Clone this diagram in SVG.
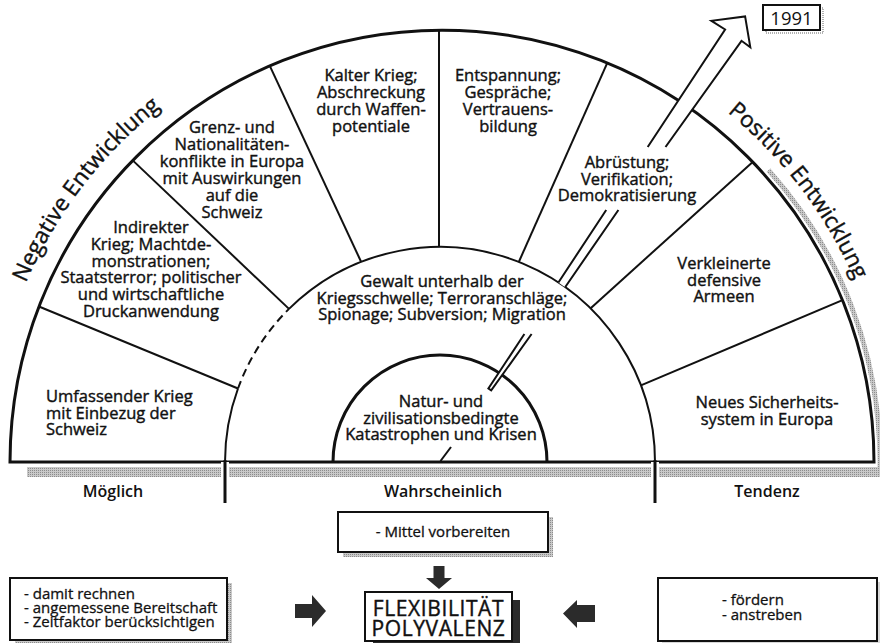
<svg xmlns="http://www.w3.org/2000/svg" width="880" height="643" viewBox="0 0 880 643">
<defs>
<pattern id="ht" width="2" height="2" patternUnits="userSpaceOnUse">
<rect width="2" height="2" fill="#c9c9c9"/>
<rect width="1" height="1" fill="#8c8c8c"/>
</pattern>
<path id="pathNeg" d="M -9.3 422.6 A 452 452 0 0 1 286.4 37.3"/>
<path id="pathPos" d="M 597.8 38.1 A 452 452 0 0 1 891.5 425.0"/>
</defs>
<style>
.thick{fill:none;stroke:#111;stroke-width:3}
.mid{fill:none;stroke:#111;stroke-width:2}
.rad{stroke:#111;stroke-width:2}
.seg{font-family:"Open Sans","Noto Sans",sans-serif;font-size:16.5px;font-weight:500;fill:#111;stroke:#111;stroke-width:0.4px;text-anchor:middle}
.lab{font-family:"Open Sans","Noto Sans",sans-serif;font-size:16px;font-weight:600;fill:#111;text-anchor:middle}
.box{fill:#fff;stroke:#111;stroke-width:2}
.btxt{font-family:"Open Sans","Noto Sans",sans-serif;font-size:15px;font-weight:500;fill:#111;stroke:#111;stroke-width:0.3px}
.curve{font-family:"Open Sans","Noto Sans",sans-serif;font-size:22.5px;font-weight:500;fill:#111;stroke:#111;stroke-width:0.4px}
.blk{fill:#2b2b2b}
.shaftfill{fill:#fff;stroke:none}
.shaft{fill:none;stroke:#111;stroke-width:2;stroke-linejoin:miter}
</style>
<rect width="880" height="643" fill="#fff"/>

<g id="shadows">
<rect x="27" y="467" width="853" height="10" fill="url(#ht)"/>
<path d="M 768.5 170.2 A 436 436 0 0 1 880 462 L 880 477" fill="none" stroke="url(#ht)" stroke-width="5"/>
</g>

<g id="frame">
<path class="thick" d="M 10 462 A 432 432 0 0 1 874 462 Z"/>
<path class="mid" d="M 225 462 A 215 215 0 0 1 238.0 388.5"/>
<path class="mid" d="M 238.0 388.5 A 215 215 0 0 1 289.0 308.9" stroke-dasharray="8 5"/>
<path class="mid" d="M 289.0 308.9 A 215 215 0 0 1 655 462"/>
<path class="thick" d="M 333 462 A 107 107 0 0 1 547 462"/>
<line class="rad" x1="38.9" y1="306.5" x2="238.0" y2="388.5"/>
<line class="rad" x1="132.7" y1="160.4" x2="289.0" y2="308.9"/>
<line class="rad" x1="269.8" y1="65.8" x2="361.2" y2="262.0"/>
<line class="rad" x1="439" y1="30" x2="439" y2="247"/>
<line class="rad" x1="607.3" y1="62.9" x2="518.8" y2="262.0"/>
<line class="rad" x1="752.7" y1="161.9" x2="590.4" y2="308.4"/>
<line class="rad" x1="842.5" y1="300.2" x2="640.9" y2="385.3"/>
<line x1="225" y1="462" x2="225" y2="503" stroke="#fff" stroke-width="8"/>
<line x1="655" y1="462" x2="655" y2="503" stroke="#fff" stroke-width="8"/>
<line x1="225" y1="460" x2="225" y2="503" stroke="#111" stroke-width="3"/>
<line x1="655" y1="460" x2="655" y2="503" stroke="#111" stroke-width="3"/>
</g>

<g id="arrow1991">
<line x1="440.5" y1="461" x2="451" y2="447" stroke="#111" stroke-width="2"/>
<polygon class="shaftfill" points="488.4,388.5 524.4,334 531.6,334 491.2,390.4"/>
<path class="shaft" d="M 524.4 334 L 488.4 388.5 L 491.2 390.4 L 531.6 334"/>
<polygon class="shaftfill" points="558.4,282.5 606.2,210 618.4,210 565.1,287.2"/>
<path class="shaft" d="M 558.4 282.5 L 606.2 210 M 565.1 287.2 L 618.4 210"/>
<polygon class="shaftfill" points="647.7,147 725.1,29.5 711.4,20.8 745.1,16.4 750.3,47.2 741.5,40.8 665.5,147"/>
<path class="shaft" d="M 647.7 147 L 725.1 29.5 L 711.4 20.8 L 745.1 16.4 L 750.3 47.2 L 741.5 40.8 L 665.5 147"/>
</g>

<g id="year">
<rect x="766" y="8" width="57" height="25" fill="none" stroke="#999" stroke-width="1.5" stroke-dasharray="1 1"/>
<rect x="763" y="5" width="57" height="25" class="box" stroke-width="1.5"/>
<text x="791.5" y="25" font-family="Open Sans, Noto Sans, sans-serif" font-size="18.5" font-weight="500" text-anchor="middle" fill="#111">1991</text>
</g>

<g id="curved-labels">
<text class="curve"><textPath href="#pathNeg" startOffset="50%" text-anchor="middle">Negative Entwicklung</textPath></text>
<text class="curve"><textPath href="#pathPos" startOffset="50%" text-anchor="middle">Positive Entwicklung</textPath></text>
</g>

<g id="seg-umfassend">
<text class="seg" style="text-anchor:start"><tspan x="46" y="402">Umfassender Krieg</tspan><tspan x="46" y="418.5">mit Einbezug der</tspan><tspan x="46" y="435">Schweiz</tspan></text>
</g>
<g id="seg-indirekt">
<text class="seg"><tspan x="151" y="233">Indirekter</tspan><tspan x="151" y="250">Krieg; Machtde-</tspan><tspan x="151" y="267">monstrationen;</tspan><tspan x="151" y="283">Staatsterror; politischer</tspan><tspan x="151" y="300">und wirtschaftliche</tspan><tspan x="151" y="317">Druckanwendung</tspan></text>
</g>
<g id="seg-grenz">
<text class="seg"><tspan x="232" y="133">Grenz- und</tspan><tspan x="232" y="150">Nationalitäten-</tspan><tspan x="232" y="167">konflikte in Europa</tspan><tspan x="232" y="184">mit Auswirkungen</tspan><tspan x="232" y="201">auf die</tspan><tspan x="232" y="218">Schweiz</tspan></text>
</g>
<g id="seg-kalt">
<text class="seg"><tspan x="371" y="81">Kalter Krieg;</tspan><tspan x="371" y="98">Abschreckung</tspan><tspan x="371" y="115">durch Waffen-</tspan><tspan x="371" y="132">potentiale</tspan></text>
</g>
<g id="seg-entspannung">
<text class="seg"><tspan x="508" y="81">Entspannung;</tspan><tspan x="508" y="98">Gespräche;</tspan><tspan x="508" y="115">Vertrauens-</tspan><tspan x="508" y="132">bildung</tspan></text>
</g>
<g id="seg-abruestung">
<text class="seg"><tspan x="627" y="168">Abrüstung;</tspan><tspan x="627" y="185">Verifikation;</tspan><tspan x="627" y="201">Demokratisierung</tspan></text>
</g>
<g id="seg-verkleinert">
<text class="seg"><tspan x="724" y="269">Verkleinerte</tspan><tspan x="724" y="286">defensive</tspan><tspan x="724" y="302">Armeen</tspan></text>
</g>
<g id="seg-neues">
<text class="seg"><tspan x="767" y="408">Neues Sicherheits-</tspan><tspan x="767" y="425">system in Europa</tspan></text>
</g>
<g id="seg-gewalt">
<text class="seg"><tspan x="442" y="287">Gewalt unterhalb der</tspan><tspan x="442" y="303.5">Kriegsschwelle; Terroranschläge;</tspan><tspan x="442" y="320">Spionage; Subversion; Migration</tspan></text>
</g>
<g id="seg-natur">
<text class="seg"><tspan x="441" y="407">Natur- und</tspan><tspan x="441" y="423.5">zivilisationsbedingte</tspan><tspan x="441" y="440">Katastrophen und Krisen</tspan></text>
</g>

<g id="axis-labels">
<text class="lab" x="113" y="497">Möglich</text>
<text class="lab" x="443" y="497">Wahrscheinlich</text>
<text class="lab" x="767" y="497">Tendenz</text>
</g>

<g id="box-mittel">
<rect x="343" y="517" width="210" height="40" fill="url(#ht)"/>
<rect class="box" x="338" y="512" width="210" height="40"/>
<text class="btxt" x="443" y="537" text-anchor="middle">- Mittel vorbereiten</text>
</g>
<g id="box-moeglich">
<rect x="15" y="583" width="217" height="62" fill="url(#ht)"/>
<rect class="box" x="10" y="578" width="217" height="62"/>
<text class="btxt"><tspan x="24" y="599">- damit rechnen</tspan><tspan x="24" y="613">- angemessene Bereitschaft</tspan><tspan x="24" y="627">- Zeitfaktor berücksichtigen</tspan></text>
</g>
<g id="box-tendenz">
<rect x="662" y="582" width="219" height="63" fill="#d8d8d8"/>
<rect class="box" x="658" y="578" width="219" height="63"/>
<text class="btxt"><tspan x="722" y="605">- fördern</tspan><tspan x="722" y="620">- anstreben</tspan></text>
</g>
<g id="box-flex">
<rect x="373" y="600" width="147" height="49" fill="#2b2b2b"/>
<rect class="box" x="365" y="592" width="147" height="49"/>
<text font-family="Open Sans, Noto Sans, sans-serif" font-size="21" font-weight="500" letter-spacing="0.6" fill="#111" stroke="#111" stroke-width="0.4" text-anchor="middle"><tspan x="438.5" y="616">FLEXIBILITÄT</tspan><tspan x="438.5" y="636">POLYVALENZ</tspan></text>
</g>

<g id="connectors">
<polygon class="blk" points="433.5,566 444.5,566 444.5,578 452,578 439,589 426,578 433.5,578"/>
<polygon class="blk" points="295,604 312,604 312,595 326,611 312,627 312,618 295,618"/>
<polygon class="blk" points="595,605 577,605 577,600 563,613.5 577,628 577,622 595,622"/>
</g>
</svg>
